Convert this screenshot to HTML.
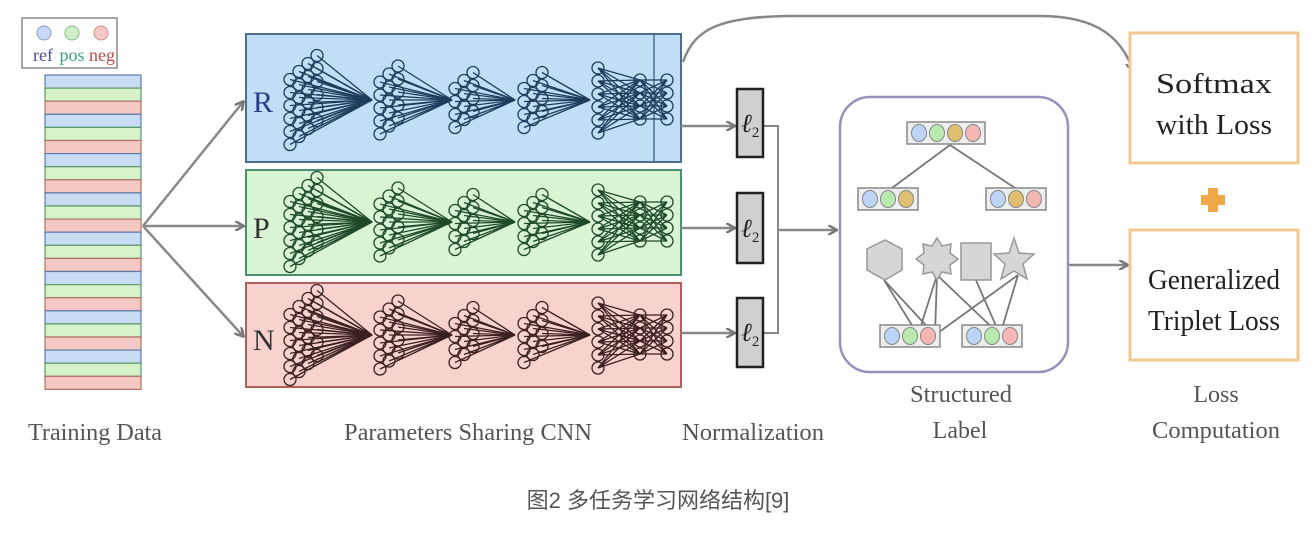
<!DOCTYPE html>
<html><head><meta charset="utf-8"><style>
html,body{margin:0;padding:0;background:#fff;width:1316px;height:534px;overflow:hidden}
svg{display:block}
text{font-family:"Liberation Serif",serif}
</style></head><body>
<svg id="s" width="1316" height="534" viewBox="0 0 1316 534" xmlns="http://www.w3.org/2000/svg">
<defs>
<marker id="ah" markerWidth="10" markerHeight="10" refX="8" refY="5" orient="auto" markerUnits="userSpaceOnUse">
<path d="M0,0 L9,5 L0,10" fill="none" stroke="#777" stroke-width="2.5"/></marker>
</defs>
<rect x="22" y="18" width="95" height="50" fill="#fff" stroke="#888" stroke-width="1.5"/>
<circle cx="44" cy="33" r="7" fill="#c8d8f4" stroke="#8a9ad0"/>
<circle cx="72" cy="33" r="7" fill="#cdeec6" stroke="#80c080"/>
<circle cx="101" cy="33" r="7" fill="#f4c8c4" stroke="#d09090"/>
<text x="43" y="61" font-size="18" fill="#4a4aa0" text-anchor="middle">ref</text>
<text x="72" y="61" font-size="18" fill="#3aa080" text-anchor="middle">pos</text>
<text x="102" y="61" font-size="18" fill="#c04a4a" text-anchor="middle">neg</text>
<g id="stripes"></g>
<rect x="246" y="34" width="435" height="128" fill="#c2ddf6" stroke="#4c6f90" stroke-width="2"/>
<line x1="654" y1="34" x2="654" y2="162" stroke="#4c6f90" stroke-width="1.5"/>
<rect x="246" y="170" width="435" height="105" fill="#d8f4d2" stroke="#4c8f70" stroke-width="2"/>
<rect x="246" y="283" width="435" height="104" fill="#f7d2ce" stroke="#b06058" stroke-width="2"/>
<text x="253" y="112" font-size="30" fill="#2a3a8a">R</text>
<text x="253" y="238" font-size="30" fill="#333">P</text>
<text x="253" y="350" font-size="30" fill="#333">N</text>
<g id="nets"></g>
<g stroke="#888" stroke-width="2.5" fill="none">
<line x1="143" y1="226" x2="243" y2="102" marker-end="url(#ah)"/>
<line x1="143" y1="226" x2="243" y2="226" marker-end="url(#ah)"/>
<line x1="143" y1="226" x2="243" y2="336" marker-end="url(#ah)"/>
<line x1="681" y1="126" x2="734" y2="126" marker-end="url(#ah)"/>
<line x1="681" y1="228" x2="734" y2="228" marker-end="url(#ah)"/>
<line x1="681" y1="333" x2="734" y2="333" marker-end="url(#ah)"/>
<polyline points="763,126 778,126 778,333 763,333" stroke-width="2"/>
<line x1="778" y1="230" x2="836" y2="230" marker-end="url(#ah)"/>
<path d="M683,62 C695,28 720,17 790,16 L1040,16 C1100,16 1122,40 1133,70" marker-end="url(#ah)"/>
<line x1="1068" y1="265" x2="1127" y2="265" marker-end="url(#ah)"/>
</g>
<g font-size="26" font-style="italic" fill="#222">
<rect x="737" y="89" width="26" height="68" fill="#d0d0d0" stroke="#222" stroke-width="2.5"/>
<rect x="737" y="193" width="26" height="70" fill="#d0d0d0" stroke="#222" stroke-width="2.5"/>
<rect x="737" y="298" width="26" height="69" fill="#d0d0d0" stroke="#222" stroke-width="2.5"/>
<text x="741" y="132">ℓ<tspan font-size="15" dy="5" font-style="normal">2</tspan></text>
<text x="741" y="237">ℓ<tspan font-size="15" dy="5" font-style="normal">2</tspan></text>
<text x="741" y="341">ℓ<tspan font-size="15" dy="5" font-style="normal">2</tspan></text>
</g>
<rect x="840" y="97" width="228" height="275" rx="30" fill="#fff" stroke="#9a8fbc" stroke-width="2.5"/>
<g stroke="#777" stroke-width="1.8">
<line x1="950" y1="145" x2="892" y2="188"/><line x1="950" y1="145" x2="1015" y2="188"/>
<line x1="884" y1="280" x2="918" y2="335"/><line x1="884" y1="280" x2="935" y2="335"/>
<line x1="937" y1="275" x2="918" y2="335"/><line x1="937" y1="275" x2="935" y2="335"/><line x1="937" y1="275" x2="1000" y2="335"/>
<line x1="975" y1="278" x2="1000" y2="335"/>
<line x1="1018" y1="275" x2="935" y2="335"/><line x1="1018" y1="275" x2="1000" y2="335"/>
</g>
<g id="lbl"></g>
<g fill="#d6d6d6" stroke="#999" stroke-width="1.5">
<polygon points="885,240 902,249 902,270 885,280 867,270 867,249"/>
<polygon points="937,238 942,246 951,244 950,253 958,259 950,265 951,274 942,272 937,280 932,272 923,274 924,265 916,259 924,253 923,244 932,246"/>
<rect x="961" y="243" width="30" height="37"/>
<polygon points="1014,238 1019,253 1034,254 1023,264 1027,279 1014,271 1001,279 1005,264 994,254 1009,253"/>
</g>
<rect x="1130" y="33" width="168" height="130" fill="#fff" stroke="#f0c890" stroke-width="3"/>
<rect x="1130" y="230" width="168" height="130" fill="#fff" stroke="#f0c890" stroke-width="3"/>
<g font-size="28" fill="#222" text-anchor="middle">
<text x="1214" y="93" textLength="116" lengthAdjust="spacingAndGlyphs">Softmax</text><text x="1214" y="134" textLength="116" lengthAdjust="spacingAndGlyphs">with Loss</text>
<text x="1214" y="289" textLength="132" lengthAdjust="spacingAndGlyphs">Generalized</text><text x="1214" y="330" textLength="132" lengthAdjust="spacingAndGlyphs">Triplet Loss</text>
</g>
<path d="M1208,188 h10 v7 h7 v10 h-7 v7 h-10 v-7 h-7 v-10 h7z" fill="#f0a848"/>
<g font-size="24" fill="#555" text-anchor="middle">
<text x="95" y="440" textLength="134" lengthAdjust="spacingAndGlyphs">Training Data</text>
<text x="468" y="440" textLength="248" lengthAdjust="spacingAndGlyphs">Parameters Sharing CNN</text>
<text x="753" y="440" textLength="142" lengthAdjust="spacingAndGlyphs">Normalization</text>
<text x="961" y="402" textLength="102" lengthAdjust="spacingAndGlyphs">Structured</text><text x="960" y="438">Label</text>
<text x="1216" y="402">Loss</text><text x="1216" y="438" textLength="128" lengthAdjust="spacingAndGlyphs">Computation</text>
</g>
<text x="658" y="508" font-size="22" fill="#555" text-anchor="middle" style="font-family:'Liberation Sans','Noto Sans CJK SC',sans-serif">图2 多任务学习网络结构[9]</text>
</svg>
<script>
var NS="http://www.w3.org/2000/svg";
function el(p,t,a){var e=document.createElementNS(NS,t);for(var k in a)e.setAttribute(k,a[k]);p.appendChild(e);return e}
var st=document.getElementById('stripes');
var cols=[["#c8dcf4","#5a7ab0"],["#d6f2c8","#5a9a6a"],["#f4c8c4","#b07060"]];
var y=75,h=13.1;
for(var i=0;i<24;i++){var c=cols[i%3];el(st,'rect',{x:45,y:y+i*h,width:96,height:h,fill:c[0],stroke:c[1],'stroke-width':1.2});}
var nets=document.getElementById('nets');
function net(oy,col){
 var g=el(nets,'g',{stroke:col,'stroke-width':1.3,fill:'none'});
 var layers=[{x:290,n:6,c:4,cy:oy,pt:372},{x:380,n:5,c:3,cy:oy,pt:452},{x:455,n:4,c:3,cy:oy,pt:515},{x:524,n:4,c:3,cy:oy,pt:590}];
 layers.forEach(function(L){
  var pts=[];
  for(var c=0;c<L.c;c++)for(var r=0;r<L.n;r++){var cx=L.x+c*9,cy=L.cy-(L.n-1)*6.5+r*13-c*8+ (L.c-1)*4;pts.push([cx,cy]);}
  pts.forEach(function(p){el(g,'line',{x1:p[0],y1:p[1],x2:L.pt,y2:oy})});
  pts.forEach(function(p){el(g,'circle',{cx:p[0],cy:p[1],r:6,fill:'none'})});
 });
 var a=[],b=[],c2=[];
 for(var r=0;r<6;r++)a.push([598,oy-32+r*13]);
 for(var r=0;r<4;r++)b.push([640,oy-20+r*13]);
 for(var r=0;r<4;r++)c2.push([667,oy-20+r*13]);
 a.forEach(function(p){b.forEach(function(q){el(g,'line',{x1:p[0],y1:p[1],x2:q[0],y2:q[1]})})});
 b.forEach(function(p){c2.forEach(function(q){el(g,'line',{x1:p[0],y1:p[1],x2:q[0],y2:q[1]})})});
 a.concat(b,c2).forEach(function(p){el(g,'circle',{cx:p[0],cy:p[1],r:6})});
}
net(100,'#1e3c5c');net(222,'#1e4a2a');net(335,'#3a2020');
var lb=document.getElementById('lbl');
function grp(x,y,list){
 var w=list.length*18+6;el(lb,'rect',{x:x,y:y,width:w,height:22,fill:'#eee',stroke:'#888','stroke-width':1.5});
 list.forEach(function(c,i){el(lb,'ellipse',{cx:x+12+i*18,cy:y+11,rx:7.5,ry:8.5,fill:c,stroke:'#888'})});
}
var B='#bcd4f6',G='#b8eab0',R='#f3b8b4',M='#e0c070';
grp(907,122,[B,G,M,R]);grp(858,188,[B,G,M]);grp(986,188,[B,M,R]);
grp(880,325,[B,G,R]);grp(962,325,[B,G,R]);
</script>
</body></html>
